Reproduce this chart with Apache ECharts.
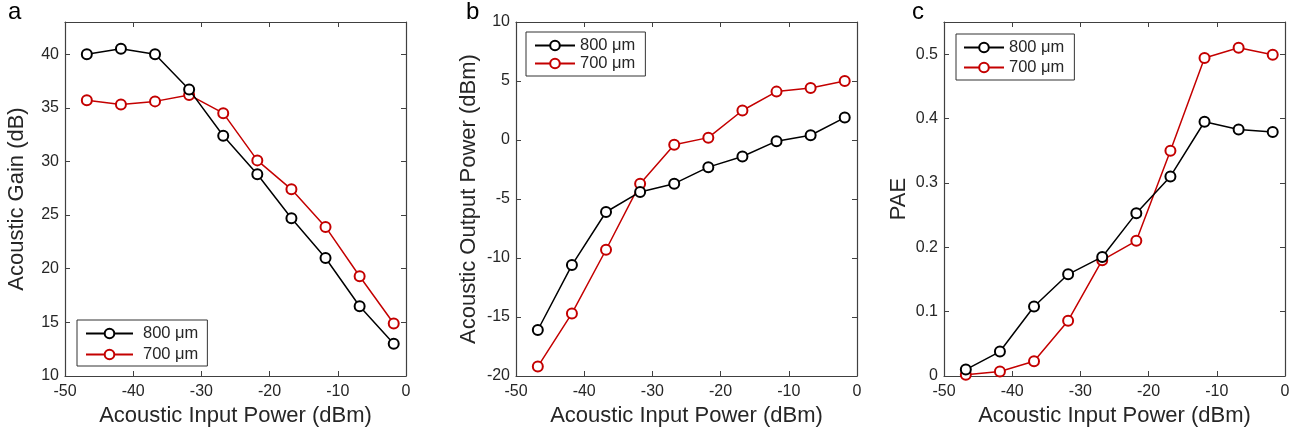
<!DOCTYPE html>
<html>
<head>
<meta charset="utf-8">
<script src="https://cdn.jsdelivr.net/npm/echarts@6/dist/echarts.min.js"></script>
<style>
  html, body { margin: 0; padding: 0; background: #fff; }
  #main { width: 1299px; height: 435px; }
</style>
</head>
<body>
<div id="main"></div>
<script>
// input power (dBm), shared by all three panels
var inputPower = [-46.8, -41.8, -36.8, -31.8, -26.8, -21.8, -16.8, -11.8, -6.8, -1.8];

// a: acoustic gain (dB)
var gain800 = [40.0, 40.5, 40.0, 36.7, 32.4, 28.8, 24.7, 21.0, 16.5, 13.0];
var gain700 = [35.7, 35.3, 35.6, 36.2, 34.5, 30.1, 27.4, 23.9, 19.3, 14.9];

// b: acoustic output power (dBm)
var out800 = [-16.1, -10.6, -6.1, -4.4, -3.7, -2.3, -1.4, -0.1, 0.4, 1.9];
var out700 = [-19.2, -14.7, -9.3, -3.7, -0.4, 0.2, 2.5, 4.1, 4.4, 5.0];

// c: PAE
var pae800 = [0.010, 0.038, 0.108, 0.158, 0.185, 0.253, 0.310, 0.395, 0.383, 0.379];
var pae700 = [0.002, 0.007, 0.023, 0.086, 0.180, 0.210, 0.350, 0.494, 0.510, 0.499];

var names = ["800 μm", "700 μm"];
var panelLetters = ["a", "b", "c"];
var yTitles = ["Acoustic Gain (dB)", "Acoustic Output Power (dBm)", "PAE"];
var xTitle = "Acoustic Input Power (dBm)";

var BLACK = "#000000";
var RED = "#c40000";
var AXIS = "#404040";
var TEXT = "#262626";
var FONT = "Liberation Sans, Arial, sans-serif";

var chartDom = document.getElementById("main");
var myChart = echarts.init(chartDom);

var grids = [
  { left: 65, top: 22, width: 341, height: 354 },
  { left: 516, top: 22, width: 341, height: 354 },
  { left: 944, top: 22, width: 341, height: 354 }
];
var yRanges = [
  { min: 10, max: 43, interval: 5 },
  { min: -20, max: 10, interval: 5 },
  { min: 0, max: 0.55, interval: 0.1 }
];
var yNameGaps = [37, 36, 34];

function zip(xs, ys) {
  return xs.map(function (x, i) { return [x, ys[i]]; });
}

var xAxes = [];
var yAxes = [];
grids.forEach(function (g, i) {
  // bottom axis
  xAxes.push({
    gridIndex: i, type: "value", min: -50, max: 0, interval: 10,
    name: xTitle, nameLocation: "middle", nameGap: 27,
    nameTextStyle: { fontSize: 22, color: TEXT, fontFamily: FONT, verticalAlign: "top" },
    axisLine: { onZero: false, lineStyle: { color: AXIS, width: 1.2 } },
    axisTick: { inside: true, length: 5, lineStyle: { color: AXIS } },
    axisLabel: { fontSize: 16, color: TEXT, fontFamily: FONT, margin: 8 },
    splitLine: { show: false }
  });
  // top frame
  xAxes.push({
    gridIndex: i, type: "value", position: "top", min: -50, max: 0, interval: 10,
    axisLine: { onZero: false, lineStyle: { color: AXIS, width: 1.2 } },
    axisTick: { inside: true, length: 5, lineStyle: { color: AXIS } },
    axisLabel: { show: false },
    splitLine: { show: false }
  });
  var r = yRanges[i];
  yAxes.push({
    gridIndex: i, type: "value", min: r.min, max: r.max, interval: r.interval,
    name: yTitles[i], nameLocation: "middle", nameGap: yNameGaps[i],
    nameTextStyle: { fontSize: 22, color: TEXT, fontFamily: FONT },
    axisLine: { show: true, onZero: false, lineStyle: { color: AXIS, width: 1.2 } },
    axisTick: { show: true, inside: true, length: 5, lineStyle: { color: AXIS } },
    axisLabel: {
      fontSize: 16, color: TEXT, fontFamily: FONT, margin: 6,
      formatter: function (v) {
        var off = Math.abs((v - r.min) / r.interval - Math.round((v - r.min) / r.interval)) > 1e-6;
        return off ? "" : String(Math.round(v * 100) / 100);
      }
    },
    splitLine: { show: false }
  });
  yAxes.push({
    gridIndex: i, type: "value", position: "right", min: r.min, max: r.max, interval: r.interval,
    axisLine: { show: true, onZero: false, lineStyle: { color: AXIS, width: 1.2 } },
    axisTick: { show: true, inside: true, length: 5, lineStyle: { color: AXIS } },
    axisLabel: { show: false },
    splitLine: { show: false }
  });
});

var panelData = [[gain800, gain700], [out800, out700], [pae800, pae700]];
var colors = [BLACK, RED];
var series = [];
panelData.forEach(function (pair, i) {
  pair.forEach(function (ys, k) {
    series.push({
      name: names[k],
      type: "line",
      xAxisIndex: i * 2,
      yAxisIndex: i * 2,
      data: zip(inputPower, ys),
      symbol: "emptyCircle",
      symbolSize: 10,
      showAllSymbol: true,
      color: colors[k],
      lineStyle: { color: colors[k], width: 1.5 },
      itemStyle: { color: colors[k], borderWidth: 2.2 },
      z: 3 - k
    });
  });
});

function legendAt(left, top, itemWidth, itemGap, pad, textPad) {
  return {
    left: left, top: top, orient: "vertical",
    data: names,
    itemWidth: itemWidth, itemHeight: 12, itemGap: itemGap,
    backgroundColor: "#fff",
    borderColor: "#333", borderWidth: 1, borderRadius: 0,
    padding: pad,
    textStyle: { fontSize: 16.5, color: TEXT, fontFamily: FONT, padding: [0, 0, 0, textPad] },
    selectedMode: false
  };
}

option = {
  animation: false,
  backgroundColor: "#fff",
  grid: grids,
  xAxis: xAxes,
  yAxis: yAxes,
  legend: [
    legendAt(77, 320, 47, 4, [5, 9, 3, 8], 5),
    legendAt(526, 32, 40, 1, [5, 10, 4, 8], 0),
    legendAt(956, 34, 40, 3, [5, 10, 4, 7], 0)
  ],
  graphic: [
    { type: "text", left: 8, top: 0, style: { text: panelLetters[0], fontSize: 24, fill: "#000", fontFamily: FONT } },
    { type: "text", left: 466, top: 0, style: { text: panelLetters[1], fontSize: 24, fill: "#000", fontFamily: FONT } },
    { type: "text", left: 912, top: 0, style: { text: panelLetters[2], fontSize: 24, fill: "#000", fontFamily: FONT } }
  ],
  series: series
};

option && myChart.setOption(option);
</script>
</body>
</html>
